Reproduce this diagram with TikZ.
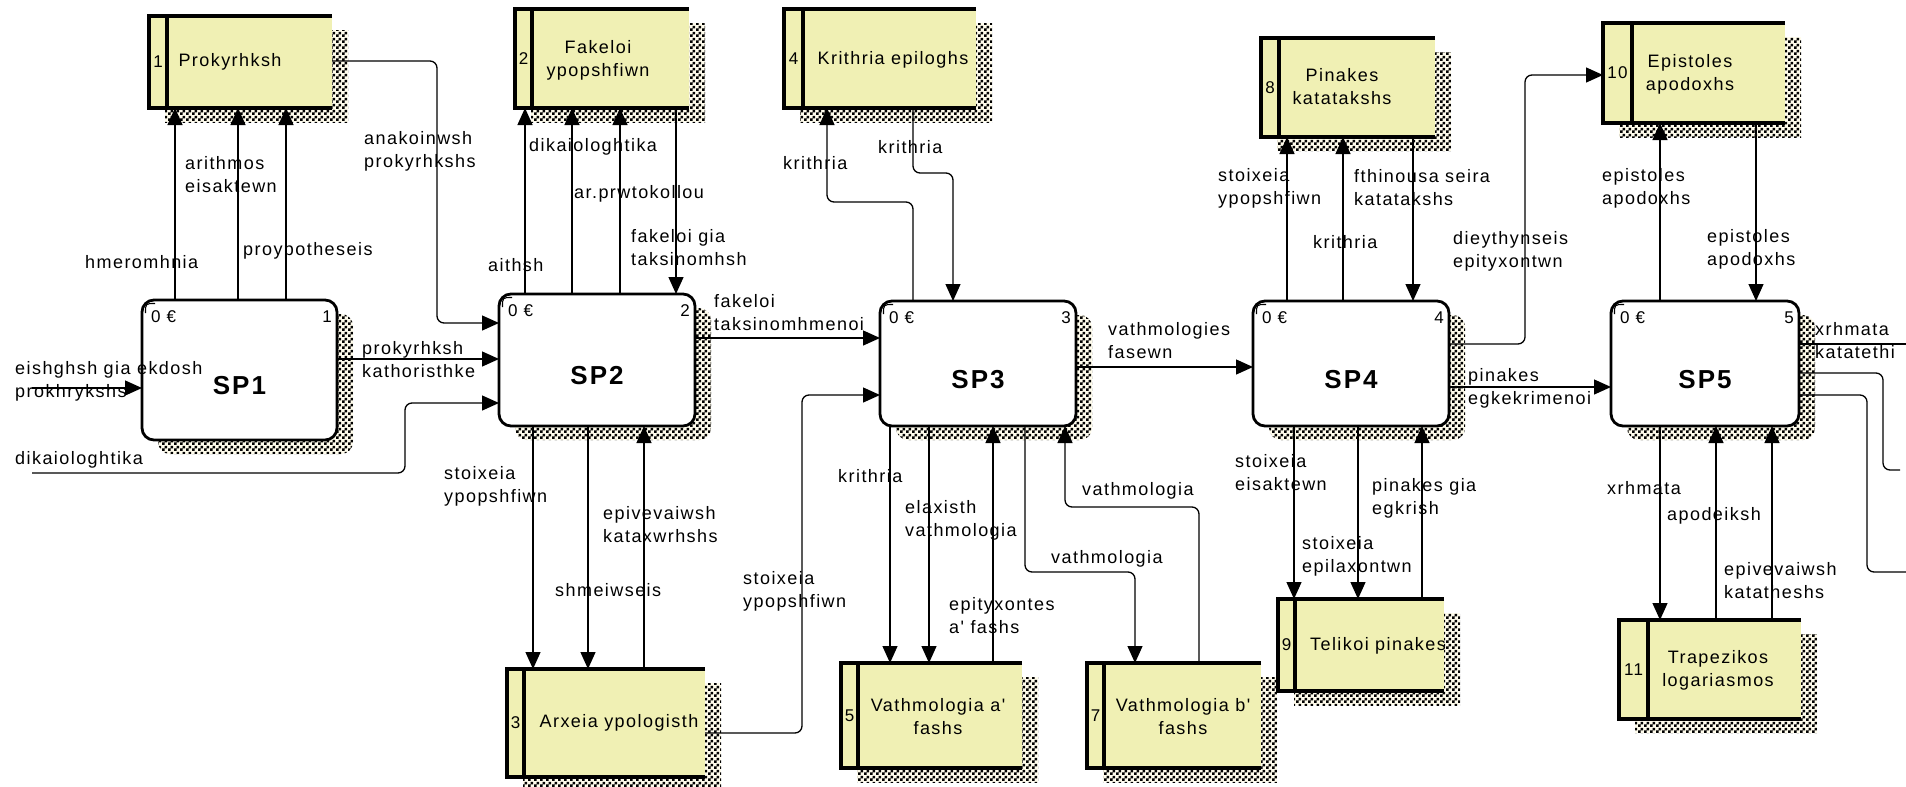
\documentclass[tikz,border=0pt]{standalone}
\usepackage{fontspec}
\setmainfont{Liberation Sans}[LetterSpace=8,Ligatures=TeXOff]
\usetikzlibrary{arrows.meta,shadows,patterns}

\definecolor{storefill}{RGB}{240,240,180}
\definecolor{shadowbg}{RGB}{255,252,236}

% fine checkerboard used for the drop shadows
\pgfdeclarepatternformonly{dfdcheck}{\pgfqpoint{0pt}{0pt}}{\pgfqpoint{6pt}{6pt}}{\pgfqpoint{6pt}{6pt}}{%
  \pgfpathrectangle{\pgfqpoint{0pt}{0pt}}{\pgfqpoint{3pt}{3pt}}%
  \pgfpathrectangle{\pgfqpoint{3pt}{3pt}}{\pgfqpoint{3pt}{3pt}}%
  \pgfusepath{fill}}

\tikzset{
  dropdots/.style={
    general shadow={shadow xshift=16pt,shadow yshift=-14pt,fill=shadowbg,draw=none},
    general shadow={shadow xshift=16pt,shadow yshift=-14pt,pattern=dfdcheck,pattern color=black,draw=none}},
  proc/.style={draw,line width=2.8pt,fill=white,rounded corners=12pt,inner sep=0pt,outer sep=0pt,dropdots},
  store/.style={fill=storefill,inner sep=0pt,outer sep=0pt,dropdots},
  storeline/.style={line width=3.2pt},
  flow/.style={line width=1.3pt,rounded corners=7pt,-{Triangle[length=17pt,width=15pt]}},
  wire/.style={line width=1.3pt,rounded corners=7pt},
  lab/.style={anchor=west,align=left,inner sep=0pt,font=\fontsize{18}{23}\selectfont},
  txt/.style={inner sep=0pt,align=center,font=\fontsize{18}{23}\selectfont},
  corner/.style={font=\fontsize{17}{20}\selectfont,inner sep=0pt},
  sptitle/.style={font=\fontsize{26}{30}\selectfont\bfseries,inner sep=0pt}
}

% process box: name, left, top, right, bottom, number, title
\newcommand\dfdproc[7]{%
  \node[proc,minimum width={(#4-#2)*1pt},minimum height={(#5-#3)*1pt}] (#1) at ({(#2+#4)/2},{(#3+#5)/2}) {};
  \draw[line width=1.1pt] ([xshift=3.5pt,yshift=-13pt]#1.north west) .. controls ([xshift=3.5pt,yshift=-3.5pt]#1.north west) .. ([xshift=13pt,yshift=-3.5pt]#1.north west);
  \node[corner,anchor=west] (#1id) at ([xshift=9pt,yshift=-17pt]#1.north west) {0 €};
  \node[corner,anchor=east] (#1no) at ([xshift=-5pt,yshift=-17pt]#1.north east) {#6};
  \node[sptitle] (#1t) at ([yshift=-16pt]#1.center) {#7};
}

% data store: name, left, top, right, bottom, divider x, number
\newcommand\dfdstore[7]{%
  \node[store,minimum width={(#4-#2)*1pt},minimum height={(#5-#3)*1pt}] (#1) at ({(#2+#4)/2},{(#3+#5)/2}) {};
  \draw[storeline] (#1.north east) -- (#1.north west) -- (#1.south west) -- (#1.south east);
  \draw[storeline] (#1.north -| #6,0) -- (#1.south -| #6,0);
  \node[corner] (#1no) at ({(#2+#6)/2},{(#3+#5)/2}) {#7};
}

\begin{document}
\begin{tikzpicture}[x=1pt,y=-1pt]
\useasboundingbox (0,0) rectangle (1906,787);

% ---------- data stores ----------
\dfdstore{s1}{149}{16}{332}{108}{167}{1}
\node[txt] (s1t) at (230,62) {Prokyrhksh};
\dfdstore{s2}{515}{9}{689}{108}{532}{2}
\node[txt] (s2t) at (598,60) {Fakeloi\\ypopshfiwn};
\dfdstore{s4}{784}{9}{976}{108}{803}{4}
\node[txt] (s4t) at (893,60) {Krithria epiloghs};
\dfdstore{s8}{1261}{38}{1435}{137}{1279}{8}
\node[txt] (s8t) at (1342,87) {Pinakes\\katatakshs};
\dfdstore{s10}{1603}{23}{1785}{123}{1632}{10}
\node[txt] (s10t) at (1690,74) {Epistoles\\apodoxhs};
\dfdstore{s3}{507}{669}{705}{777}{524}{3}
\node[txt] (s3t) at (619,723) {Arxeia ypologisth};
\dfdstore{s5}{841}{663}{1022}{768}{858}{5}
\node[txt] (s5t) at (938,717) {Vathmologia a'\\fashs};
\dfdstore{s7}{1087}{663}{1261}{768}{1104}{7}
\node[txt] (s7t) at (1183,717) {Vathmologia b'\\fashs};
\dfdstore{s9}{1278}{599}{1444}{691}{1295}{9}
\node[txt] (s9t) at (1378,646) {Telikoi pinakes};
\dfdstore{s11}{1619}{620}{1801}{719}{1648}{11}
\node[txt] (s11t) at (1718,670) {Trapezikos\\logariasmos};

% ---------- processes ----------
\dfdproc{sp1}{142}{300}{337}{440}{1}{SP1}
\dfdproc{sp2}{499}{294}{695}{426}{2}{SP2}
\dfdproc{sp3}{880}{301}{1076}{426}{3}{SP3}
\dfdproc{sp4}{1253}{301}{1449}{426}{4}{SP4}
\dfdproc{sp5}{1611}{301}{1799}{426}{5}{SP5}

% ---------- free ends ----------
\coordinate (src1) at (32,388);
\coordinate (src2) at (32,473);
\coordinate (snk1) at (1906,344);
\coordinate (snk2) at (1900,470);
\coordinate (snk3) at (1906,572);

% ---------- flows around SP1 ----------
\draw[flow] (sp1.north -| 175,0) -- (s1.south -| 175,0);
\draw[flow] (sp1.north -| 238,0) -- (s1.south -| 238,0);
\draw[flow] (sp1.north -| 286,0) -- (s1.south -| 286,0);
\draw[flow] (src1) -- (sp1.west |- 0,388);
\draw[flow] (src2) -- (405,473) -- (405,403) -- (sp2.west |- 0,403);
\draw[flow] (sp1.east |- 0,359) -- (sp2.west |- 0,359);
\draw[flow] (s1.east |- 0,61) -- (437,61) -- (437,323) -- (sp2.west |- 0,323);

% ---------- flows around SP2 ----------
\draw[flow] (sp2.north -| 525,0) -- (s2.south -| 525,0);
\draw[flow] (sp2.north -| 572,0) -- (s2.south -| 572,0);
\draw[flow] (sp2.north -| 620,0) -- (s2.south -| 620,0);
\draw[flow] (s2.south -| 676,0) -- (sp2.north -| 676,0);
\draw[flow] (sp2.east |- 0,338) -- (sp3.west |- 0,338);
\draw[flow] (sp2.south -| 533,0) -- (s3.north -| 533,0);
\draw[flow] (sp2.south -| 588,0) -- (s3.north -| 588,0);
\draw[flow] (s3.north -| 644,0) -- (sp2.south -| 644,0);
\draw[flow] (s3.east |- 0,733) -- (802,733) -- (802,395) -- (sp3.west |- 0,395);

% ---------- flows around SP3 ----------
\draw[flow] (sp3.north -| 913,0) -- (913,202) -- (827,202) -- (s4.south -| 827,0);
\draw[flow] (s4.south -| 913,0) -- (913,173) -- (953,173) -- (sp3.north -| 953,0);
\draw[flow] (sp3.east |- 0,367) -- (sp4.west |- 0,367);
\draw[flow] (sp3.south -| 890,0) -- (s5.north -| 890,0);
\draw[flow] (sp3.south -| 929,0) -- (s5.north -| 929,0);
\draw[flow] (s5.north -| 993,0) -- (sp3.south -| 993,0);
\draw[flow] (sp3.south -| 1025,0) -- (1025,572) -- (1135,572) -- (s7.north -| 1135,0);
\draw[flow] (s7.north -| 1199,0) -- (1199,507) -- (1065,507) -- (sp3.south -| 1065,0);

% ---------- flows around SP4 ----------
\draw[flow] (sp4.north -| 1287,0) -- (s8.south -| 1287,0);
\draw[flow] (sp4.north -| 1343,0) -- (s8.south -| 1343,0);
\draw[flow] (s8.south -| 1413,0) -- (sp4.north -| 1413,0);
\draw[flow] (sp4.east |- 0,344) -- (1525,344) -- (1525,75) -- (s10.west |- 0,75);
\draw[flow] (sp4.east |- 0,387) -- (sp5.west |- 0,387);
\draw[flow] (sp4.south -| 1294,0) -- (s9.north -| 1294,0);
\draw[flow] (sp4.south -| 1358,0) -- (s9.north -| 1358,0);
\draw[flow] (s9.north -| 1422,0) -- (sp4.south -| 1422,0);

% ---------- flows around SP5 ----------
\draw[flow] (sp5.north -| 1660,0) -- (s10.south -| 1660,0);
\draw[flow] (s10.south -| 1756,0) -- (sp5.north -| 1756,0);
\draw[wire] (sp5.east |- 0,344) -- (snk1);
\draw[wire] (sp5.east |- 0,373) -- (1883,373) -- (1883,470) -- (snk2);
\draw[wire] (sp5.east |- 0,395) -- (1867,395) -- (1867,572) -- (snk3);
\draw[flow] (sp5.south -| 1660,0) -- (s11.north -| 1660,0);
\draw[flow] (s11.north -| 1716,0) -- (sp5.south -| 1716,0);
\draw[flow] (s11.north -| 1772,0) -- (sp5.south -| 1772,0);

% ---------- flow labels ----------
\node[lab] (f1) at (85,262) {hmeromhnia};
\node[lab] (f2) at (185,175) {arithmos\\eisaktewn};
\node[lab] (f3) at (243,251) {proypotheseis};
\node[lab] (f4) at (15,381) {eishghsh gia ekdosh\\prokhrykshs};
\node[lab] (f5) at (15,460) {dikaiologhtika};
\node[lab] (f6) at (362,360) {prokyrhksh\\kathoristhke};
\node[lab] (f7) at (364,151) {anakoinwsh\\prokyrhkshs};
\node[lab] (f8) at (488,265) {aithsh};
\node[lab] (f9) at (529,147) {dikaiologhtika};
\node[lab] (f10) at (574,194) {ar.prwtokollou};
\node[lab] (f11) at (631,248) {fakeloi gia\\taksinomhsh};
\node[lab] (f12) at (714,313) {fakeloi\\taksinomhmenoi};
\node[lab] (f13) at (444,486) {stoixeia\\ypopshfiwn};
\node[lab] (f14) at (555,590) {shmeiwseis};
\node[lab] (f15) at (603,525) {epivevaiwsh\\kataxwrhshs};
\node[lab] (f16) at (743,591) {stoixeia\\ypopshfiwn};
\node[lab] (f17) at (783,163) {krithria};
\node[lab] (f18) at (878,147) {krithria};
\node[lab] (f19) at (1108,341) {vathmologies\\fasewn};
\node[lab] (f20) at (838,476) {krithria};
\node[lab] (f21) at (905,520) {elaxisth\\vathmologia};
\node[lab] (f22) at (949,616) {epityxontes\\a' fashs};
\node[lab] (f23) at (1051,559) {vathmologia};
\node[lab] (f24) at (1082,491) {vathmologia};
\node[lab] (f25) at (1218,188) {stoixeia\\ypopshfiwn};
\node[lab] (f26) at (1313,242) {krithria};
\node[lab] (f27) at (1354,188) {fthinousa seira\\katatakshs};
\node[lab] (f28) at (1453,251) {dieythynseis\\epityxontwn};
\node[lab] (f29) at (1468,388) {pinakes\\egkekrimenoi};
\node[lab] (f30) at (1235,473) {stoixeia\\eisaktewn};
\node[lab] (f31) at (1302,556) {stoixeia\\epilaxontwn};
\node[lab] (f32) at (1372,498) {pinakes gia\\egkrish};
\node[lab] (f33) at (1602,188) {epistoles\\apodoxhs};
\node[lab] (f34) at (1707,249) {epistoles\\apodoxhs};
\node[lab] (f35) at (1815,341) {xrhmata\\katatethi};
\node[lab] (f36) at (1607,488) {xrhmata};
\node[lab] (f37) at (1667,516) {apodeiksh};
\node[lab] (f38) at (1724,581) {epivevaiwsh\\katatheshs};
\end{tikzpicture}
\end{document}
